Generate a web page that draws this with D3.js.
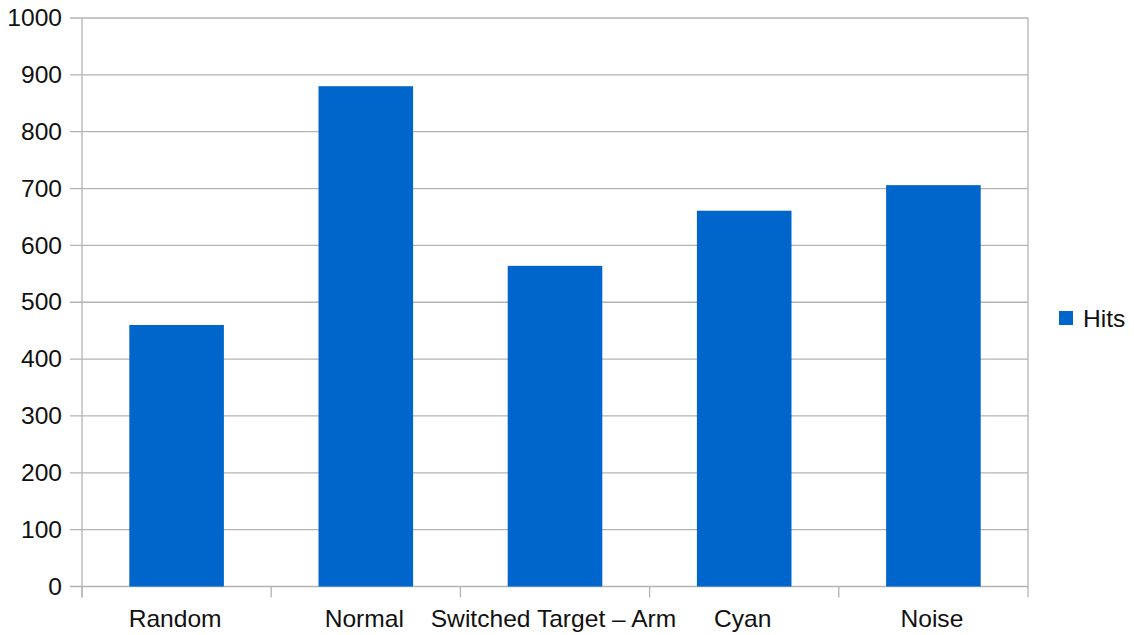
<!DOCTYPE html>
<html>
<head>
<meta charset="utf-8">
<script src="https://cdn.jsdelivr.net/npm/d3@7"></script>
<style>
  html, body { margin: 0; padding: 0; background: #fff; }
  svg { display: block; font-family: "Liberation Sans", Arial, sans-serif; }
</style>
</head>
<body>
<svg id="chart" width="1134" height="635"></svg>
<script>
// Hits per condition
const categories = ["Random", "Normal", "Switched Target – Arm", "Cyan", "Noise"];
const hits = [460, 880, 564, 661, 706];
const yTicks = [0, 100, 200, 300, 400, 500, 600, 700, 800, 900, 1000];
const seriesName = "Hits";

const svg = d3.select("#chart");
const plotLeft = 82, plotRight = 1028, plotTop = 18, plotBottom = 586.5;
const gridColor = "#b3b3b3";
const barColor = "#0066cc";
const textColor = "#111";
const fontSize = 23;
const stretch = 1.07; // slightly wide glyphs

const x = d3.scaleBand().domain(categories).range([plotLeft, plotRight]).paddingInner(0.5).paddingOuter(0.25);
const xBand = d3.scaleBand().domain(categories).range([plotLeft, plotRight]);
const y = d3.scaleLinear().domain([0, 1000]).range([plotBottom, plotTop]);

// horizontal gridlines with short outward ticks on the left
svg.append("g").selectAll("line").data(yTicks).join("line")
  .attr("x1", plotLeft - 12).attr("x2", plotRight)
  .attr("y1", d => y(d)).attr("y2", d => y(d))
  .attr("stroke", gridColor).attr("stroke-width", 1.3);

// y tick labels
svg.append("g").selectAll("text").data(yTicks).join("text")
  .attr("transform", d => `translate(${plotLeft - 20},${y(d)}) scale(${stretch},1)`)
  .attr("text-anchor", "end").attr("dominant-baseline", "central")
  .attr("font-size", fontSize).attr("fill", textColor)
  .text(d => d);

// vertical axis line
svg.append("line").attr("x1", plotLeft).attr("x2", plotLeft).attr("y1", plotTop).attr("y2", plotBottom + 11)
  .attr("stroke", gridColor).attr("stroke-width", 1.3);

// category boundary ticks below the baseline, plus the right frame
const bounds = categories.map(c => xBand(c)).concat([plotRight]);
svg.append("g").selectAll("line").data(bounds).join("line")
  .attr("x1", d => d).attr("x2", d => d)
  .attr("y1", d => d === plotRight ? plotTop : plotBottom).attr("y2", plotBottom + 11)
  .attr("stroke", gridColor).attr("stroke-width", 1.3);

// bars
svg.append("g").selectAll("rect").data(categories).join("rect")
  .attr("x", d => x(d)).attr("width", x.bandwidth())
  .attr("y", (d, i) => y(hits[i])).attr("height", (d, i) => plotBottom - y(hits[i]))
  .attr("fill", barColor);

// category labels
svg.append("g").selectAll("text").data(categories).join("text")
  .attr("transform", d => `translate(${xBand(d) + xBand.bandwidth() / 2 - 1.5},626.5) scale(${stretch},1)`)
  .attr("text-anchor", "middle").attr("font-size", fontSize).attr("fill", textColor)
  .text(d => d);

// legend
const legend = svg.append("g").attr("transform", "translate(1059,311)");
legend.append("rect").attr("width", 14).attr("height", 14).attr("fill", barColor);
legend.append("text").attr("transform", `translate(24,15.5) scale(${stretch},1)`)
  .attr("font-size", fontSize).attr("fill", textColor).text(seriesName);
</script>
</body>
</html>
